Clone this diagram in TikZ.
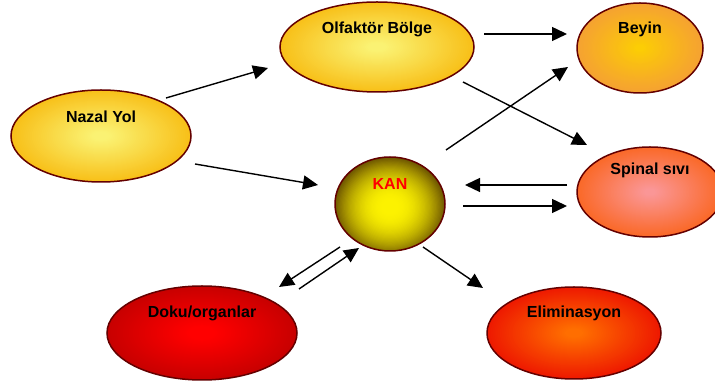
\documentclass[tikz,border=0pt]{standalone}
\usepackage{fontspec}
\setmainfont{Liberation Sans}
\usetikzlibrary{arrows.meta,calc,shapes.geometric}
\definecolor{bord}{RGB}{100,0,0}
\definecolor{yin}{RGB}{250,242,115}\definecolor{yout}{RGB}{248,192,25}
\definecolor{bin}{RGB}{252,205,5}\definecolor{bout}{RGB}{245,162,50}
\definecolor{sin}{RGB}{250,150,150}\definecolor{sout}{RGB}{250,105,40}
\definecolor{kin}{RGB}{252,242,0}\definecolor{kout}{RGB}{95,70,0}
\definecolor{din}{RGB}{255,0,0}\definecolor{dout}{RGB}{200,0,0}
\definecolor{ein}{RGB}{255,110,0}\definecolor{eout}{RGB}{238,25,0}
% gradient fill: x y rx ry inner outer plateau exponent
\newcommand\gradfill[8]{%
  \foreach \i in {0,...,48}{%
    \pgfmathsetmacro\ff{1-\i/48}%
    \pgfmathsetmacro\pp{100*(max(0,(\ff-#7)/(1-#7)))^#8}%
    \fill[#6!\pp!#5] (#1,#2) ellipse [x radius=\ff*#3, y radius=\ff*#4];
  }}
\tikzset{
  ell/.style={ellipse, draw=bord, line width=1.5pt, inner sep=0pt},
  lbl/.style={font=\fontsize{16}{19}\selectfont\bfseries, text=black},
  arr/.style={-{Triangle[length=15pt,width=14pt]}, line width=1.4pt, black},
}
\begin{document}
\begin{tikzpicture}[x=1pt,y=1pt]
\useasboundingbox (0,0) rectangle (715,385);
\clip (0,0) rectangle (715,385);
\gradfill{101}{249}{90}{46}{yin}{yout}{0.1}{1}
\gradfill{377}{338}{97}{45}{yin}{yout}{0.1}{1}
\gradfill{640}{337}{63}{45}{bin}{bout}{0.08}{0.9}
\gradfill{650}{193}{73}{45}{sin}{sout}{0.08}{1}
\begin{scope}
\clip (390,181) ellipse [x radius=55, y radius=47];
\gradfill{390}{178}{58}{52}{kin}{kout}{0.12}{2}
\end{scope}
\gradfill{202}{52}{95}{47}{din}{dout}{0.15}{1}
\gradfill{574}{52}{87}{46}{ein}{eout}{0.1}{1}
\node[ell, minimum width=180, minimum height=92,
  label={[lbl, yshift=19pt]center:Nazal Yol}] (nazal) at (101,249) {};
\node[ell, minimum width=194, minimum height=90,
  label={[lbl, yshift=18pt]center:Olfaktör Bölge}] (olf) at (377,338) {};
\node[ell, minimum width=126, minimum height=90,
  label={[lbl, yshift=19pt]center:Beyin}] (beyin) at (640,337) {};
\node[ell, minimum width=146, minimum height=90,
  label={[lbl, yshift=22pt]center:Spinal sıvı}] (spinal) at (650,193) {};
\node[ell, minimum width=110, minimum height=94,
  label={[lbl, text=red, yshift=20pt]center:KAN}] (kan) at (390,181) {};
\node[ell, minimum width=190, minimum height=94,
  label={[lbl, yshift=20pt]center:Doku/organlar}] (doku) at (202,52) {};
\node[ell, minimum width=174, minimum height=92,
  label={[lbl, yshift=20pt]center:Eliminasyon}] (elim) at (574,52) {};
\draw[arr] ($(nazal)+(65,38)$) -- ($(olf)+(-109,-21)$);
\draw[arr] ($(nazal)+(94,-28)$) -- ($(kan)+(-72,19)$);
\draw[arr] ($(olf)+(107,13)$) -- ($(beyin)+(-73,14)$);
\draw[arr] ($(olf)+(86,-35)$) -- ($(spinal)+(-63,47)$);
\draw[arr] ($(kan)+(56,54)$) -- ($(beyin)+(-72,-19)$);
\draw[arr] ($(spinal)+(-83,7)$) -- ($(kan)+(75,19)$);
\draw[arr] ($(kan)+(73,-2)$) -- ($(spinal)+(-83,-14)$);
\draw[arr] ($(kan)+(-50,-43)$) -- ($(doku)+(77,46)$);
\draw[arr] ($(doku)+(97,44)$) -- ($(kan)+(-31,-44)$);
\draw[arr] ($(kan)+(33,-43)$) -- ($(elim)+(-91,45)$);
\end{tikzpicture}
\end{document}
